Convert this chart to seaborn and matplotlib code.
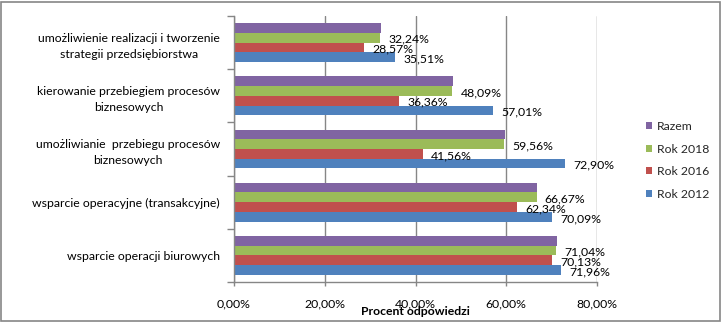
import matplotlib
matplotlib.use("Agg")
import matplotlib.pyplot as plt
import seaborn as sns
import pandas as pd
from matplotlib.ticker import FuncFormatter, FixedLocator
from matplotlib.patches import Rectangle

categories = [
    "umożliwienie realizacji i tworzenie\nstrategii przedsiębiorstwa",
    "kierowanie przebiegiem procesów\nbiznesowych",
    "umożliwianie  przebiegu procesów\nbiznesowych",
    "wsparcie operacyjne (transakcyjne)",
    "wsparcie operacji biurowych",
]
series_names = ["Razem", "Rok 2018", "Rok 2016", "Rok 2012"]
razem = [32.4, 48.2, 59.7, 66.8, 71.2]
rok2018 = [32.24, 48.09, 59.56, 66.67, 71.04]
rok2016 = [28.57, 36.36, 41.56, 62.34, 70.13]
rok2012 = [35.51, 57.01, 72.90, 70.09, 71.96]
x_ticks = [0, 20, 40, 60, 80]
labelled_series = ["Rok 2018", "Rok 2016", "Rok 2012"]

colors = ["#8064A2", "#9BBB59", "#C0504D", "#4F81BD"]
FS = 8.8

rows = []
for name, vals in zip(series_names, [razem, rok2018, rok2016, rok2012]):
    for c, v in zip(categories, vals):
        rows.append({"kategoria": c, "seria": name, "wartosc": v})
df = pd.DataFrame(rows)

sns.set_theme(style="white")
plt.rcParams["font.family"] = ["Lato", "DejaVu Sans"]

fig = plt.figure(figsize=(7.22, 3.22), dpi=100)
ax = fig.add_axes([234 / 722, 1 - 282 / 322, (597 - 234) / 722, (282 - 16) / 322])

sns.barplot(data=df, x="wartosc", y="kategoria", hue="seria",
            order=categories, hue_order=series_names,
            palette=colors, saturation=1, width=0.73, linewidth=0,
            errorbar=None, ax=ax, legend=True)

ax.set_xlim(x_ticks[0], x_ticks[-1])
ax.xaxis.set_major_locator(FixedLocator(x_ticks))
ax.xaxis.set_major_formatter(FuncFormatter(lambda v, p: f"{v:.2f}%".replace(".", ",")))
ax.grid(axis="x", color="#868686", linewidth=1)
ax.grid(axis="y", visible=False)
ax.set_axisbelow(True)

for s in ["top", "right"]:
    ax.spines[s].set_visible(False)
for s in ["left", "bottom"]:
    ax.spines[s].set_color("#868686")
    ax.spines[s].set_linewidth(1)

# category labels and boundary ticks
n = len(categories)
ax.set_yticks(list(range(n)))
ax.set_yticklabels(categories, linespacing=1.55, multialignment="center")
ax.yaxis.set_minor_locator(FixedLocator([i - 0.5 for i in range(n + 1)]))
ax.tick_params(axis="y", which="major", length=0, pad=10, labelsize=FS, labelcolor="black")
ax.tick_params(axis="y", which="minor", left=True, length=5, width=1, color="#868686")
ax.tick_params(axis="x", which="major", bottom=True, length=3, width=1, color="#868686",
               pad=9, labelsize=FS, labelcolor="black")

ax.set_ylabel("")
ax.set_xlabel("Procent odpowiedzi", fontsize=FS, fontweight="bold", color="black")
ax.xaxis.set_label_coords(0.5, -(311.5 - 282) / 266)
ax.xaxis.label.set_va("center")

# data labels
for cont, name in zip(ax.containers, series_names):
    if name not in labelled_series:
        continue
    labels = [f"{b.get_width():.2f}%".replace(".", ",") for b in cont]
    anns = ax.bar_label(cont, labels=labels, padding=6, fontsize=FS, color="black")
    for a in anns:
        a.xyann = (a.xyann[0], -1.2)

handles, labels = ax.get_legend_handles_labels()
ax.legend(handles, labels, loc="center left", bbox_to_anchor=(646 / 722, 1 - 160.5 / 322),
          bbox_transform=fig.transFigure, frameon=False, fontsize=FS,
          handlelength=0.5, handleheight=0.5, handletextpad=0.4,
          labelspacing=0.95, borderpad=0, borderaxespad=0)

fig.patches.append(Rectangle((1 / 722, 1 / 322), 719 / 722, 319 / 322,
                             transform=fig.transFigure, fill=False,
                             edgecolor="#868686", linewidth=1.2))

fig.savefig("out.png", dpi=100)
